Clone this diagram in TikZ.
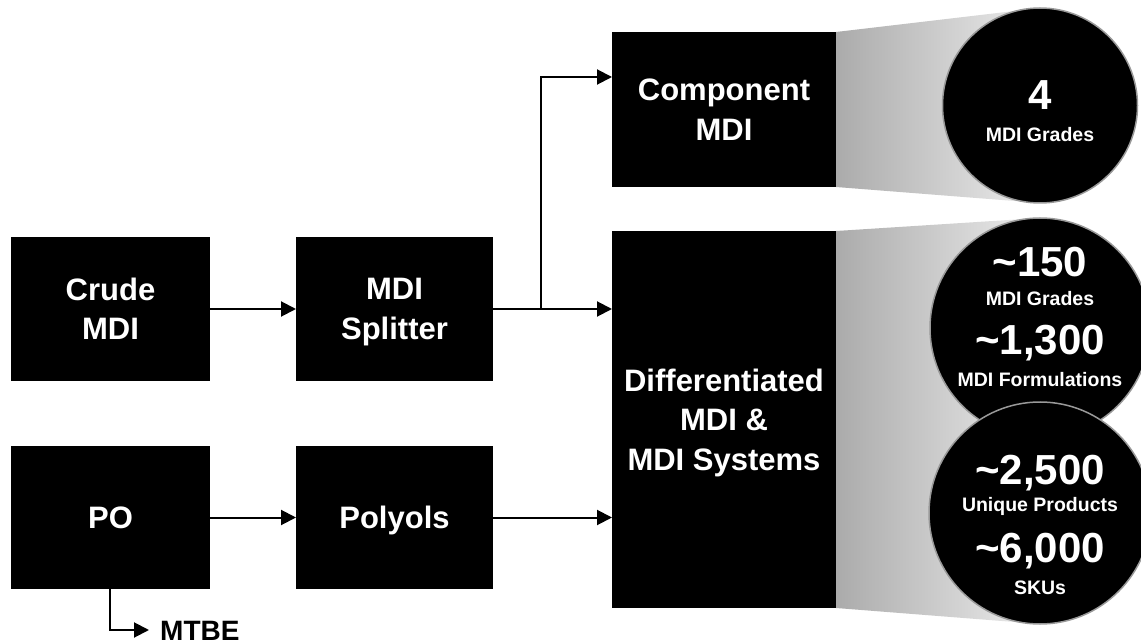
\documentclass[tikz,border=0pt]{standalone}
\usepackage{fontspec}
\setmainfont{Liberation Sans}
\usetikzlibrary{arrows.meta}
\begin{document}
\begin{tikzpicture}[x=1pt,y=-1pt,
  box/.style={fill=black, text=white, font=\bfseries\fontsize{31}{39.5}\selectfont,
    align=center, inner sep=0pt, outer sep=0pt, text depth=0pt},
  arr/.style={line width=2pt, draw=black, -{Triangle[length=15pt,width=15pt]}},
  bubble/.style={circle, fill=black, draw=black!40, line width=1.5pt, inner sep=0pt, outer sep=0pt},
  num/.style={text=white, font=\bfseries\fontsize{42}{42}\selectfont, inner sep=0pt,
    text height=30pt, text depth=0pt},
  lab/.style={text=white, font=\bfseries\fontsize{19.5}{20}\selectfont, inner sep=0pt,
    text height=14pt, text depth=0pt},
  fan/.style={left color=black!33, right color=black!7}
]
\useasboundingbox (0,0) rectangle (1141,644);

% fans
\shade[fan] (836,32) -- (1040,8) -- (1040,203) -- (836,187) -- cycle;
\shade[fan] (836,231) -- (1040,218) -- (1040,624) -- (836,608) -- cycle;

% bubbles
\node[bubble, minimum size=195pt] (c1) at (1040,105.5) {};
\node[bubble, minimum size=220pt] (c2) at (1040,328) {};
\node[bubble, minimum size=222pt] (c3) at (1040,513) {};

\node[num] (n4) at (1040,95) {4};
\node[lab] (l4) at (1040,135) {MDI Grades};
\node[num] (n150) at (1040,262) {\textasciitilde150};
\node[lab] (l150) at (1040,299) {MDI Grades};
\node[num] (n1300) at (1040,340) {\textasciitilde1,300};
\node[lab] (l1300) at (1040,380) {MDI Formulations};
\node[num] (n2500) at (1040,469) {\textasciitilde2,500};
\node[lab] (l2500) at (1040,504) {Unique Products};
\node[num] (n6000) at (1040,547) {\textasciitilde6,000};
\node[lab] (l6000) at (1040,587) {SKUs};

% boxes
\node[box, minimum width=199pt, minimum height=144pt] (crude) at (110.5,309) {Crude\\MDI};
\node[box, minimum width=197pt, minimum height=144pt] (split) at (394.5,309) {MDI\\Splitter};
\node[box, minimum width=199pt, minimum height=143pt] (po) at (110.5,517.5) {PO};
\node[box, minimum width=197pt, minimum height=143pt] (poly) at (394.5,517.5) {Polyols};
\node[box, minimum width=224pt, minimum height=155pt] (comp) at (724,109.5) {Component\\MDI};
\node[box, minimum width=224pt, minimum height=377pt] (diff) at (724,419.5) {Differentiated\\MDI \&\\MDI Systems};

% connectors
\draw[arr] (crude) -- (split);
\draw[arr] (split) -- (split -| diff.west);
\coordinate (br) at (541,309);
\coordinate (brtop) at (541,77);
\draw[arr] (br) |- (comp.west |- brtop);
\draw[arr] (po) -- (poly);
\draw[arr] (poly) -- (poly -| diff.west);

\coordinate (mt) at (110,630);
\node[anchor=west, inner sep=0pt, font=\bfseries\fontsize{28}{30}\selectfont,
  text height=20pt, text depth=0pt] (mtbe) at (160,630) {MTBE};
\coordinate (mttip) at (149,630);
\draw[arr] (po.south -| mt) |- (mttip);
\end{tikzpicture}
\end{document}
